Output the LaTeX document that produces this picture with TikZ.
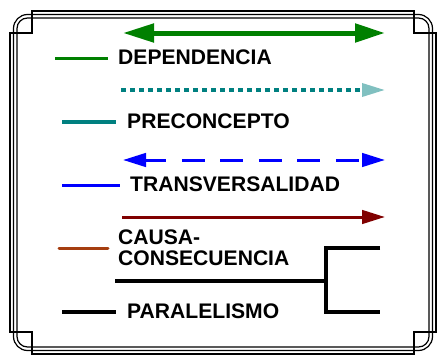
\documentclass[tikz,border=0pt]{standalone}
\usepackage{fontspec}
\setmainfont{Liberation Sans}
\usetikzlibrary{arrows.meta}
\definecolor{dgreen}{RGB}{0,128,0}
\definecolor{dteal}{RGB}{0,128,128}
\definecolor{lteal}{RGB}{128,192,192}
\definecolor{dblue}{RGB}{0,0,255}
\definecolor{dred}{RGB}{128,0,0}
\definecolor{dbrown}{RGB}{165,62,16}
\begin{document}
\begin{tikzpicture}[x=1pt,y=-1pt,
  lbl/.style={inner sep=0pt,anchor=base west,font=\fontsize{21.1}{21.5}\selectfont\bfseries},
  frameline/.style={line width=1.2pt,black},
  sample/.style={line width=3.5pt}
]
\useasboundingbox (0,0) rectangle (437,356);
% frame
\draw[frameline] (10,33) -- (32,33) -- (32,11) -- (414,11) -- (414,33) -- (436,33)
  -- (436,332) -- (414,332) -- (414,354) -- (32,354) -- (32,332) -- (10,332) -- cycle;
\draw[frameline, rounded corners=14pt] (13.5,14.5) rectangle (432.5,350.5);
\draw[frameline, rounded corners=10.5pt] (17,18) rectangle (429,347);

% labels
\node[lbl] (dep) at (118,64) {DEPENDENCIA};
\node[lbl] (pre) at (127,128) {PRECONCEPTO};
\node[lbl] (tra) at (130,191) {TRANSVERSALIDAD};
\node[lbl] (cau) at (118,244.3) {CAUSA-};
\node[lbl] (con) at (118,265.5) {CONSECUENCIA};
\node[lbl] (par) at (127,318) {PARALELISMO};

% coordinates
\coordinate (gL) at (123,33);   \coordinate (gR) at (385,33);
\coordinate (tL) at (121,90);   \coordinate (tR) at (385,90);
\coordinate (bL) at (123,160);  \coordinate (bR) at (385,160);
\coordinate (rL) at (122,217);  \coordinate (rR) at (385,217);
\coordinate (gs1) at (55,58.5); \coordinate (gs2) at (108,58.5);
\coordinate (ts1) at (62,122);  \coordinate (ts2) at (116,122);
\coordinate (bs1) at (62,185.3);\coordinate (bs2) at (120,185.3);
\coordinate (ns1) at (59,248.7);\coordinate (ns2) at (108,248.7);
\coordinate (ks1) at (62,312);  \coordinate (ks2) at (116,312);
\coordinate (kA) at (115,281);  \coordinate (kM) at (326,281);
\coordinate (kT) at (380,248);  \coordinate (kTm) at (326,248);
\coordinate (kB) at (380,312);  \coordinate (kBm) at (326,312);

% arrows
\draw[dgreen, line width=5pt, {Triangle[length=31pt,width=18pt]}-{Triangle[length=30pt,width=18pt]}] (gL) -- (gR);
\draw[dteal, line width=3.5pt, dash pattern=on 5pt off 4pt,
  -{Triangle[length=23pt,width=13pt,color=lteal]}] (tL) -- (tR);
\draw[dblue, line width=3pt, dash pattern=on 23pt off 15.5pt, dash phase=2pt,
  {Triangle[length=23pt,width=13.5pt]}-{Triangle[length=23pt,width=13.5pt]}] (bL) -- (bR);
\draw[dred, line width=3pt, -{Triangle[length=23pt,width=13.5pt]}] (rL) -- (rR);

% samples
\draw[sample, dgreen] (gs1) -- (gs2);
\draw[sample, dteal] (ts1) -- (ts2);
\draw[sample, dblue] (bs1) -- (bs2);
\draw[sample, dbrown, line width=3pt, line cap=round] (ns1) -- (ns2);
\draw[sample, black] (ks1) -- (ks2);

% bracket
\draw[black, line width=3.3pt] (kA) -- (kM);
\draw[black, line width=3.3pt] (kT) -- (kTm) -- (kBm) -- (kB);
\end{tikzpicture}
\end{document}
